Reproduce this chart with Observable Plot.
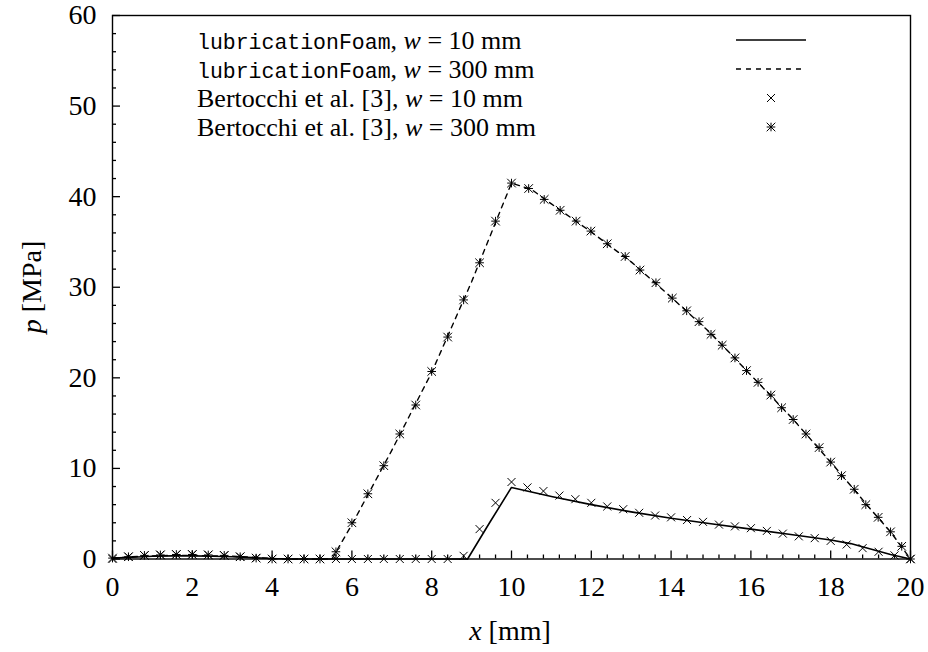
<!DOCTYPE html>
<html><head><meta charset="utf-8">
<script src="https://cdn.jsdelivr.net/npm/d3@7"></script>
<script src="https://cdn.jsdelivr.net/npm/@observablehq/plot@0.6"></script>
<style>body{margin:0;background:#fff} svg{display:block}</style>
</head><body><div id="chart"></div>
<script>
// lubricationFoam, w = 10 mm (solid line)
const lf10X = [0, 0.5, 1, 1.5, 2, 2.5, 3, 3.5, 4, 4.5, 8.9, 9.45, 10.0, 10.5, 11, 12, 13, 14, 15, 16, 17, 18, 18.5, 19, 19.5, 20];
const lf10P = [0.1, 0.2, 0.3, 0.35, 0.35, 0.3, 0.25, 0.15, 0.05, 0, 0, 4.0, 7.9, 7.4, 6.9, 6.0, 5.2, 4.5, 3.9, 3.3, 2.7, 2.1, 1.7, 1.1, 0.5, 0];
// lubricationFoam, w = 300 mm (dashed line)
const lf300X = [0, 0.5, 1, 1.5, 2, 2.5, 3, 3.5, 4, 4.5, 5.5, 6, 7, 8, 9, 10, 10.5, 11, 12, 13, 14, 15, 16, 17, 18, 19, 19.5, 20];
const lf300P = [0.1, 0.25, 0.35, 0.4, 0.4, 0.35, 0.3, 0.2, 0.05, 0, 0, 3.8, 12.0, 20.6, 30.6, 41.5, 40.8, 39.2, 36.1, 32.8, 28.9, 24.9, 20.3, 15.7, 10.7, 5.5, 3.0, 0];
// Bertocchi et al. [3], w = 10 mm (x markers)
const b10X = [0,0.4,0.8,1.2,1.6,2.0,2.4,2.8,3.2,3.6,4.0,4.4,4.8,5.2,5.6,6.0,6.4,6.8,7.2,7.6,8.0,8.4,8.8,9.2,9.6,10.0,10.4,10.8,11.2,11.6,12.0,12.4,12.8,13.2,13.6,14.0,14.4,14.8,15.2,15.6,16.0,16.4,16.8,17.2,17.6,18.0,18.4,18.8,19.2,19.6,20.0];
const b10P = [0,0.25,0.4,0.47,0.5,0.5,0.47,0.4,0.25,0.1,0,0,0,0,0,0,0,0,0,0,0,0,0.35,3.3,6.2,8.5,7.9,7.5,7.0,6.6,6.2,5.8,5.5,5.1,4.8,4.6,4.3,4.1,3.8,3.6,3.4,3.1,2.8,2.5,2.3,2.0,1.6,1.2,0.8,0.4,0];
// Bertocchi et al. [3], w = 300 mm (asterisks)
const b300X = [0,0.4,0.8,1.2,1.6,2.0,2.4,2.8,3.2,3.6,4.0,4.4,4.8,5.2,5.6,6.0,6.4,6.8,7.2,7.6,8.0,8.4,8.8,9.2,9.6,10.0,10.43,10.82,11.22,11.62,11.99,12.40,12.85,13.22,13.62,14.03,14.39,14.70,15.00,15.28,15.60,15.89,16.18,16.50,16.77,17.06,17.38,17.71,18.00,18.27,18.59,18.88,19.19,19.50,19.78,20.0];
const b300P = [0.1,0.25,0.4,0.45,0.5,0.5,0.45,0.4,0.25,0.1,0,0,0,0,0.8,4.0,7.2,10.3,13.8,17.0,20.7,24.5,28.6,32.7,37.3,41.5,40.9,39.7,38.5,37.3,36.2,34.8,33.4,31.9,30.5,28.8,27.4,26.2,24.8,23.6,22.2,20.8,19.5,18.1,16.7,15.4,13.8,12.3,10.7,9.2,7.7,6.0,4.6,3.0,1.4,0];

const xTicks = [0, 2, 4, 6, 8, 10, 12, 14, 16, 18, 20];
const yTicks = [0, 10, 20, 30, 40, 50, 60];
const xMinor = [0.4, 0.8, 1.2, 1.6, 2.4, 2.8, 3.2, 3.6, 4.4, 4.8, 5.2, 5.6, 6.4, 6.8, 7.2, 7.6, 8.4, 8.8, 9.2, 9.6, 10.4, 10.8, 11.2, 11.6, 12.4, 12.8, 13.2, 13.6, 14.4, 14.8, 15.2, 15.6, 16.4, 16.8, 17.2, 17.6, 18.4, 18.8, 19.2, 19.6];
const yMinor = [2, 4, 6, 8, 12, 14, 16, 18, 22, 24, 26, 28, 32, 34, 36, 38, 42, 44, 46, 48, 52, 54, 56, 58];

const legendLabels = [
  {mono: "lubricationFoam", rest: "10 mm"},
  {mono: "lubricationFoam", rest: "300 mm"},
  {serif: "Bertocchi et al. [3]", rest: "10 mm"},
  {serif: "Bertocchi et al. [3]", rest: "300 mm"}
];

const table = (xs, ps) => xs.map((x, i) => ({x, p: ps[i]}));

const crossSym = {draw(ctx) { const r = 4; ctx.moveTo(-r, -r); ctx.lineTo(r, r); ctx.moveTo(-r, r); ctx.lineTo(r, -r); }};
const starSym = {draw(ctx) { const r = 4.3; ctx.moveTo(-r, -r); ctx.lineTo(r, r); ctx.moveTo(-r, r); ctx.lineTo(r, -r); ctx.moveTo(-r, 0); ctx.lineTo(r, 0); ctx.moveTo(0, -r); ctx.lineTo(0, r); }};

const W = 928, H = 652;
const mL = 112, mR = 18, mT = 15, mB = 93.5;
const xDom = [0, 20], yDom = [0, 60];
// tick lengths converted from pixels to data units
const pxX = (xDom[1] - xDom[0]) / (W - mL - mR);
const pxY = (yDom[1] - yDom[0]) / (H - mT - mB);

const plot = Plot.plot({
  width: W, height: H,
  marginLeft: mL, marginRight: mR, marginTop: mT, marginBottom: mB,
  style: {fontFamily: "'Liberation Serif', serif", fontSize: "28px", color: "black", background: "white"},
  x: {domain: xDom, label: null},
  y: {domain: yDom, label: null},
  marks: [
    Plot.axisX({ticks: xTicks, tickSize: 0, tickPadding: 17, tickFormat: d => String(d), label: null}),
    Plot.axisY({ticks: yTicks, tickSize: 0, tickPadding: 16, tickFormat: d => String(d), label: null}),
    Plot.line(table(lf10X, lf10P), {x: "x", y: "p", stroke: "black", strokeWidth: 1.6}),
    Plot.line(table(lf300X, lf300P), {x: "x", y: "p", stroke: "black", strokeWidth: 1.4, strokeDasharray: "5,5"}),
    Plot.dot(table(b10X, b10P), {x: "x", y: "p", symbol: crossSym, fill: "none", stroke: "black", strokeWidth: 1}),
    Plot.dot(table(b300X, b300P), {x: "x", y: "p", symbol: starSym, fill: "none", stroke: "black", strokeWidth: 1}),
    Plot.frame({stroke: "black", strokeWidth: 1.4}),
    Plot.ruleX(xTicks, {x: d => d, y1: () => 0, y2: () => 8 * pxY, stroke: "black", strokeWidth: 1.3}),
    Plot.ruleX(xMinor, {x: d => d, y1: () => 0, y2: () => 4 * pxY, stroke: "black", strokeWidth: 1.3}),
    Plot.ruleY(yTicks, {y: d => d, x1: () => 0, x2: () => 8 * pxX, stroke: "black", strokeWidth: 1.3}),
    Plot.ruleY(yMinor, {y: d => d, x1: () => 0, x2: () => 4 * pxX, stroke: "black", strokeWidth: 1.3})
  ]
});
document.getElementById("chart").append(plot);

// axis titles and legend (text with mixed styles)
const svg = d3.select(plot);
const xl = svg.append("text").attr("x", 510).attr("y", 640).attr("text-anchor", "middle")
  .attr("font-family", "'Liberation Serif', serif").attr("font-size", 28).attr("fill", "black");
xl.append("tspan").attr("font-style", "italic").text("x");
xl.append("tspan").text(" [mm]");
const yl = svg.append("text").attr("transform", "translate(41,287) rotate(-90)").attr("text-anchor", "middle")
  .attr("font-family", "'Liberation Serif', serif").attr("font-size", 28).attr("fill", "black");
yl.append("tspan").attr("font-style", "italic").text("p");
yl.append("tspan").text(" [MPa]");

const leg = svg.append("g");
const rowY = [40, 69, 98, 127];
legendLabels.forEach((d, i) => {
  const t = leg.append("text").attr("x", 197).attr("y", rowY[i] + 9).attr("text-anchor", "start")
    .attr("font-family", "'Liberation Serif', serif").attr("font-size", 26).attr("fill", "black");
  if (d.mono) t.append("tspan").attr("font-family", "'Liberation Mono', monospace").attr("font-size", 21.5).text(d.mono);
  else t.append("tspan").text(d.serif);
  t.append("tspan").text(", ");
  t.append("tspan").attr("font-style", "italic").text("w");
  t.append("tspan").text(" = " + d.rest);
});
leg.append("line").attr("x1", 736).attr("x2", 806).attr("y1", rowY[0]).attr("y2", rowY[0]).attr("stroke", "black").attr("stroke-width", 1.6);
leg.append("line").attr("x1", 736).attr("x2", 806).attr("y1", rowY[1]).attr("y2", rowY[1]).attr("stroke", "black").attr("stroke-width", 1.4).attr("stroke-dasharray", "5,5");
leg.append("path").attr("transform", `translate(771,${rowY[2]})`).attr("d", d3.symbol(crossSym)()).attr("fill", "none").attr("stroke", "black");
leg.append("path").attr("transform", `translate(771,${rowY[3]})`).attr("d", d3.symbol(starSym)()).attr("fill", "none").attr("stroke", "black");
</script></body></html>
